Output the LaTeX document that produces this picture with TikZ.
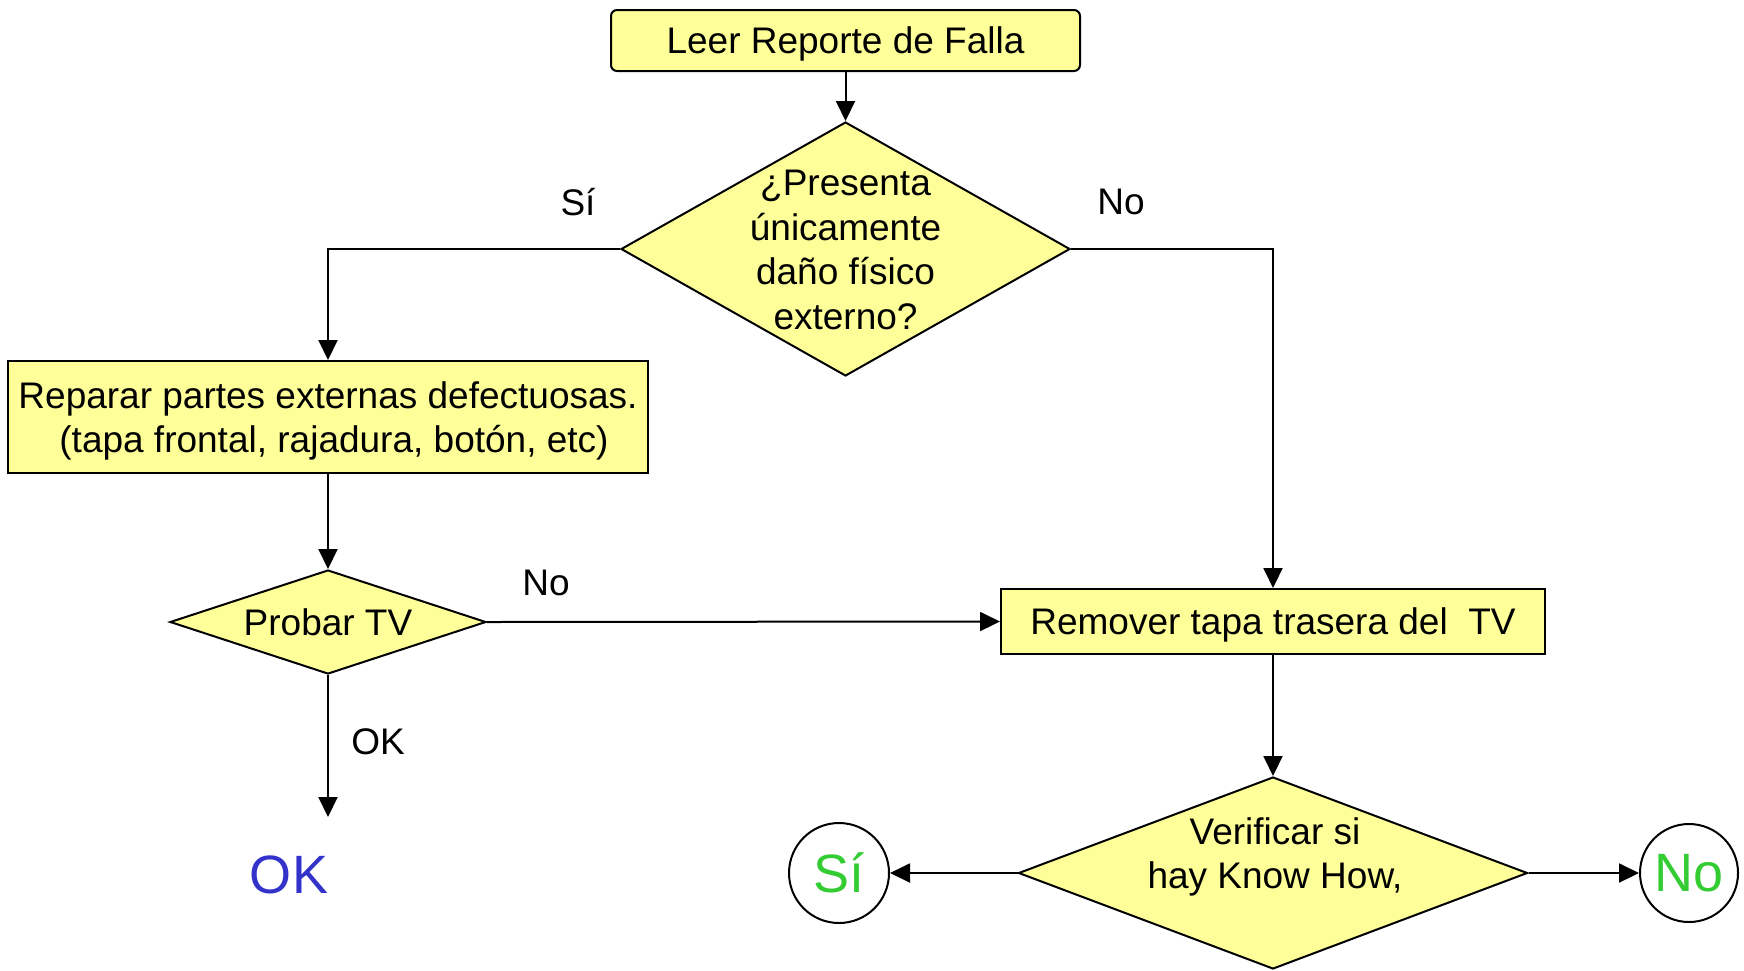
\documentclass[tikz,border=0pt]{standalone}
\usepackage{fontspec}
\setmainfont{Liberation Sans}
\usetikzlibrary{shapes.geometric,arrows.meta}
\definecolor{boxfill}{HTML}{FFFF99}
\definecolor{okblue}{HTML}{3333CC}
\definecolor{endgreen}{HTML}{33CC33}
\newcommand\mainfnt{\fontsize{37}{44.5}\selectfont}
\newcommand\bigfnt{\fontsize{54}{60}\selectfont}
\tikzset{
  box/.style={draw, fill=boxfill, line width=2pt, inner sep=0pt, font=\mainfnt, align=center, text depth=0pt},
  dia/.style={draw, fill=boxfill, diamond, line width=2pt, inner sep=0pt},
  txt/.style={font=\mainfnt, align=center, inner sep=0pt, text depth=0pt},
  arr/.style={line width=2pt, -{Triangle[length=20pt,width=19pt]}},
  endc/.style={draw, circle, line width=2pt, fill=white, inner sep=0pt, minimum size=100pt, font=\bigfnt, text=endgreen},
}
\begin{document}
\begin{tikzpicture}[x=1pt,y=-1pt]
\useasboundingbox[fill=white] (0,0) rectangle (1744,970);
% nodes
\node[box, rounded corners=6pt, minimum width=469pt, minimum height=61pt] (top) at (845.5,40.5) {Leer Reporte de Falla};
\node[dia, minimum width=449pt, minimum height=254pt] (d1) at (845.5,249) {};
\node[txt] (d1t) at (845.5,250) {¿Presenta\\únicamente\\daño físico\\externo?};
\node[box, minimum width=640pt, minimum height=112pt] (rep) at (328,417) {Reparar partes externas defectuosas.\\\hspace*{12pt}(tapa frontal, rajadura, botón, etc)};
\node[dia, minimum width=316pt, minimum height=104pt] (d2) at (328,622) {};
\node[txt] (d2t) at (328,622) {Probar TV};
\node[box, minimum width=544pt, minimum height=65pt] (rem) at (1273,621.5) {Remover tapa trasera del\ \ TV};
\node[dia, minimum width=509pt, minimum height=192pt] (d3) at (1273,873) {};
\node[txt] (d3t) at (1275,853) {Verificar si\\hay Know How,};
\node[endc] (si) at (839,873) {Sí};
\node[endc, minimum size=98pt] (no) at (1689,873) {No};
\node[font=\bigfnt, text=okblue, inner sep=0pt] (ok) at (289,875) {OK};
\coordinate (okend) at (328,817);
% edge labels
\node[txt] (lsi) at (578,202) {Sí};
\node[txt] (lno1) at (1121,202) {No};
\node[txt] (lno2) at (546,583) {No};
\node[txt] (lok) at (378,742) {OK};
% connectors
\draw[arr] (top.south) -- (d1.north);
\draw[arr] (d1.west) -| (rep.north);
\draw[arr] (d1.east) -| (rem.north);
\draw[arr] (rep.south) -- (d2.north);
\draw[arr] (d2.east) -- (rem.west);
\draw[arr] (d2.south) -- (okend);
\draw[arr] (rem.south) -- (d3.north);
\draw[arr] (d3.west) -- (si.east);
\draw[arr] (d3.east) -- (no.west);
\end{tikzpicture}
\end{document}
